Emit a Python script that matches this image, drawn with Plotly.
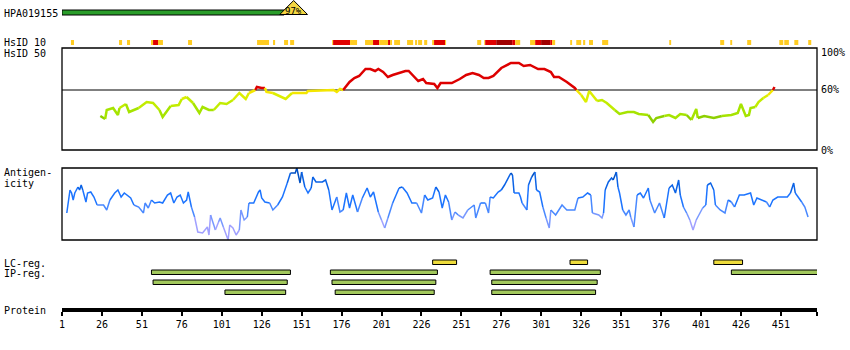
import plotly.graph_objects as go

# ---------------- data ----------------
protein_length = 473
tick_positions = [1, 26, 51, 76, 101, 126, 151, 176, 201, 226, 251, 276, 301, 326, 351, 376, 401, 426, 451]

antigen_name = "HPA019155"
antigen_start = 1
antigen_end = 140
antigen_marker = 146
antigen_identity = "97%"

# HsID 10 row: start, end, level (0 = orange, 1 = red, 2 = dark red)
hsid10_start = [6.6, 36.7, 41.7, 56.7, 58.0, 61.1, 79.9, 123.1, 133.1, 140.0, 143.8,
                170.1, 170.7, 181.3, 190.7, 195.7, 199.5, 205.1, 206.4, 208.9, 217.0,
                222.0, 223.9, 227.7, 232.7, 233.9, 240.8, 260.9, 265.3, 265.9, 272.8,
                282.8, 284.7, 294.0, 297.2, 300.9, 306.6, 307.8, 319.1, 322.9, 327.2,
                330.9, 339.1, 381.1, 413.0, 419.3, 429.9, 450.0, 453.1, 459.4, 468.1]
hsid10_end = [8.5, 38.6, 43.6, 58.0, 61.1, 64.2, 82.4, 130.6, 134.4, 142.5, 146.3,
              170.7, 181.3, 185.7, 195.7, 199.5, 205.1, 206.4, 207.6, 212.6, 220.8,
              223.3, 226.4, 229.6, 233.9, 240.8, 241.4, 263.4, 265.9, 272.8, 282.8,
              284.7, 287.8, 297.2, 300.9, 306.6, 307.8, 309.7, 320.3, 326.0, 328.5,
              333.4, 342.9, 382.3, 415.5, 420.5, 432.4, 452.5, 456.0, 461.9, 470.0]
hsid10_level = [0, 0, 0, 0, 1, 0, 0, 0, 0, 0, 0,
                0, 1, 0, 0, 1, 0, 1, 0, 0, 0,
                0, 0, 0, 0, 1, 0, 0, 0, 1, 2,
                1, 0, 0, 1, 2, 1, 0, 0, 0, 0,
                0, 0, 0, 0, 0, 0, 0, 0, 0, 0]

# HsID 50 similarity curve (%)
hsid50_res = [25, 28, 29, 33, 36, 37, 41, 43, 46, 49,
              54, 58, 62, 64, 69, 74, 76, 79, 83, 87,
              89, 93, 96, 100, 104, 108, 112, 116, 118, 122,
              123, 126, 128, 129, 133, 137, 141, 145, 154, 155,
              171, 173, 175, 177, 178, 181, 184, 187, 191, 194,
              197, 199, 202, 205, 208, 212, 216, 218, 221, 224,
              227, 229, 234, 236, 238, 245, 250, 254, 258, 262,
              265, 268, 271, 276, 282, 287, 290, 294, 299, 303,
              307, 309, 312, 317, 322, 323, 326, 329, 331, 334,
              336, 339, 342, 347, 350, 355, 359, 362, 368, 371,
              373, 378, 381, 385, 388, 392, 395, 398, 399, 403,
              409, 414, 420, 424, 426, 429, 431, 432, 435, 437,
              440, 443, 446, 447]
hsid50_val = [34, 31, 40, 42, 35, 42, 46, 38, 40, 42,
              48, 47, 40, 33, 44, 45, 51, 53, 47, 37,
              43, 40, 40, 47, 46, 50, 57, 51, 57, 60,
              63, 62, 62, 58, 57, 54, 51, 57, 57, 59,
              60, 58, 61, 60, 62, 68, 72, 74, 81, 81,
              79, 81, 78, 73, 75, 77, 79, 79, 74, 69,
              71, 67, 66, 62, 67, 67, 71, 75, 77, 75,
              72, 72, 74, 82, 87, 87, 84, 85, 81, 81,
              78, 73, 73, 68, 62, 60, 55, 48, 59, 53,
              49, 50, 47, 40, 36, 38, 38, 36, 35, 28,
              32, 34, 35, 32, 36, 35, 30, 41, 32, 34,
              32, 34, 35, 37, 46, 34, 35, 42, 43, 48,
              52, 55, 60, 63]

# Antigenicity curve (arbitrary units)
antig_res = [4, 6, 7, 8, 9, 11, 12, 13, 14, 16,
             17, 19, 21, 23, 27, 29, 31, 34, 36, 38,
             40, 44, 46, 49, 52, 53, 55, 57, 59, 62,
             64, 67, 69, 71, 73, 75, 77, 79, 80, 82,
             84, 86, 89, 92, 93, 94, 97, 99, 100, 102,
             105, 106, 108, 110, 112, 113, 115, 117, 118, 121,
             124, 125, 126, 128, 131, 133, 136, 139, 142, 144,
             147, 148, 150, 151, 153, 155, 157, 158, 160, 164,
             166, 168, 170, 173, 175, 177, 179, 181, 183, 186,
             189, 192, 194, 196, 199, 201, 203, 205, 208, 212,
             214, 217, 220, 223, 225, 226, 228, 230, 233, 235,
             237, 239, 241, 243, 245, 247, 249, 252, 255, 259,
             260, 263, 266, 268, 269, 271, 274, 276, 278, 282,
             283, 284, 287, 288, 289, 292, 293, 295, 297, 298,
             300, 302, 304, 306, 307, 310, 312, 314, 317, 322,
             324, 327, 330, 332, 333, 337, 339, 340, 341, 343,
             345, 346, 348, 349, 350, 352, 354, 356, 357, 359,
             361, 363, 365, 368, 369, 372, 375, 378, 381, 383,
             385, 387, 388, 390, 392, 394, 396, 398, 402, 404,
             405, 407, 409, 410, 413, 416, 418, 420, 422, 425,
             428, 432, 434, 436, 439, 442, 444, 446, 449, 452,
             455, 457, 459, 460, 462, 464, 466, 468]
antig_val = [27, 50, 47, 40, 47, 53, 50, 55, 50, 38,
             47, 48, 43, 35, 35, 30, 40, 47, 50, 43,
             47, 42, 35, 33, 27, 37, 32, 40, 37, 38,
             37, 45, 47, 37, 43, 45, 37, 40, 48, 33,
             23, 8, 7, 13, 5, 25, 10, 18, 22, 13,
             0, 15, 12, 5, 10, 30, 20, 23, 37, 37,
             48, 50, 42, 38, 37, 30, 35, 43, 57, 67,
             67, 72, 57, 68, 53, 47, 52, 63, 58, 58,
             60, 50, 30, 43, 28, 30, 47, 32, 45, 28,
             42, 52, 43, 48, 28, 20, 12, 22, 37, 52,
             53, 47, 37, 37, 30, 27, 45, 40, 42, 53,
             48, 32, 45, 38, 20, 28, 25, 22, 30, 35,
             22, 37, 37, 27, 43, 42, 48, 50, 55, 67,
             65, 47, 47, 43, 37, 30, 55, 63, 68, 50,
             48, 33, 22, 12, 30, 25, 30, 35, 30, 30,
             42, 43, 47, 45, 27, 25, 22, 27, 50, 58,
             62, 60, 68, 53, 47, 30, 25, 30, 23, 13,
             45, 47, 42, 52, 40, 27, 37, 22, 52, 55,
             47, 60, 45, 33, 27, 20, 10, 20, 32, 35,
             55, 57, 50, 35, 30, 27, 40, 38, 33, 45,
             45, 47, 35, 42, 40, 38, 33, 40, 43, 43,
             43, 47, 57, 47, 42, 38, 33, 23]

# LC / IP regions
lc_start = [233, 319, 409]
lc_end = [248, 330, 427]
ip1_start = [57, 169, 269, 420]
ip1_end = [144, 236, 338, 474]
ip2_start = [58, 170, 270]
ip2_end = [142, 235, 336]
ip3_start = [103, 172, 270]
ip3_end = [141, 234, 335]

# ---------------- layout helpers ----------------
W, H = 850, 350
ML, MR = 62, 33
PW = W - ML - MR
MONO = "DejaVu Sans Mono"


def px(xp):
    return (xp - ML) / PW


def py(yp):
    return 1 - yp / H


def hsid_color(v):
    if v > 60.9:
        return "#dd0000"
    if v > 56:
        return "#f4e600"
    if v > 50:
        return "#dcee00"
    if v > 43:
        return "#c2ec00"
    if v > 33:
        return "#a6e400"
    if v > 29:
        return "#8ed000"
    return "#64a800"


def antig_color(v):
    if v > 62:
        return "#0050c4"
    if v > 50:
        return "#0a62e6"
    if v > 36:
        return "#1c74ff"
    if v > 26:
        return "#4888ff"
    if v > 16:
        return "#7898ff"
    return "#a0a0ff"


fig = go.Figure()


def add_colored(xs, ys, yref, cfn, width):
    cols = [cfn((ys[i] + ys[i + 1]) / 2) for i in range(len(xs) - 1)]
    i = 0
    while i < len(cols):
        j = i
        while j + 1 < len(cols) and cols[j + 1] == cols[i]:
            j += 1
        fig.add_trace(go.Scatter(x=xs[i:j + 2], y=ys[i:j + 2], mode="lines",
                                 line=dict(color=cols[i], width=width),
                                 yaxis=yref, showlegend=False, hoverinfo="skip"))
        i = j + 1


add_colored(hsid50_res, hsid50_val, "y", hsid_color, 2.5)
add_colored(antig_res, antig_val, "y2", antig_color, 1.5)

shapes = []
# HPA bar + identity triangle
shapes.append(dict(type="rect", xref="x", yref="paper", x0=antigen_start, x1=antigen_end,
                   y0=py(15), y1=py(10), fillcolor="#2a9d2a", line=dict(color="black", width=1)))
hw = 8.7
shapes.append(dict(type="path", xref="x", yref="paper",
                   path=f"M {antigen_marker - hw},{py(14.5)} L {antigen_marker},{py(0.5)} L {antigen_marker + hw},{py(14.5)} Z",
                   fillcolor="#f5d742", line=dict(color="black", width=1)))

# HsID 10 row
lvl_col = ["#ffcc22", "#e00000", "#a00000"]
for s, e, l in zip(hsid10_start, hsid10_end, hsid10_level):
    shapes.append(dict(type="rect", xref="x", yref="paper", x0=s, x1=e, y0=py(45), y1=py(40),
                       fillcolor=lvl_col[l], line=dict(width=0), layer="below"))

# HsID 50 box and 60% line
shapes.append(dict(type="rect", xref="paper", yref="paper", x0=0, x1=1, y0=py(150), y1=py(48),
                   line=dict(color="black", width=1.3)))
shapes.append(dict(type="line", xref="paper", yref="y", x0=0, x1=1, y0=60, y1=60,
                   line=dict(color="black", width=1), layer="below"))
# Antigenicity box
shapes.append(dict(type="rect", xref="paper", yref="paper", x0=0, x1=1, y0=py(240), y1=py(168),
                   line=dict(color="black", width=1.3)))

# LC / IP bars
def bars(starts, ends, ytop, color):
    for s, e in zip(starts, ends):
        shapes.append(dict(type="rect", xref="x", yref="paper", x0=s, x1=e,
                           y0=py(ytop + 4.5), y1=py(ytop), fillcolor=color,
                           line=dict(color="black", width=1)))


bars(lc_start, lc_end, 260, "#eedc3c")
bars(ip1_start, ip1_end, 270, "#a2c85c")
bars(ip2_start, ip2_end, 280, "#a2c85c")
bars(ip3_start, ip3_end, 290, "#a2c85c")

# ---------------- annotations ----------------
ann = []


def label(text, xp, yp, anchor="left", size=10):
    ann.append(dict(text=text, xref="paper", yref="paper", x=px(xp), y=py(yp),
                    xanchor=anchor, yanchor="middle", showarrow=False,
                    font=dict(family=MONO, size=size, color="black")))


label(antigen_name, 2, 13)
label("HsID 10", 2, 42)
label("HsID 50", 2, 53)
label("Antigen-", 2, 173)
label("icity", 2, 183)
label("LC-reg.", 2, 263)
label("IP-reg.", 2, 273)
label("Protein", 2, 310)
label("100%", 819, 52)
label("60%", 819, 90)
label("0%", 819, 150)
ann.append(dict(text=antigen_identity, xref="x", yref="paper", x=antigen_marker, y=py(10.5),
                xanchor="center", yanchor="middle", showarrow=False,
                font=dict(family=MONO, size=9, color="black")))

tickvals = tick_positions + [protein_length + 0.6]
ticktext = [str(t) for t in tick_positions] + [""]

fig.update_layout(
    width=W, height=H,
    margin=dict(l=ML, r=MR, t=0, b=0),
    paper_bgcolor="white", plot_bgcolor="white",
    showlegend=False,
    xaxis=dict(range=[1, protein_length + 0.6], domain=[0, 1], anchor="free", position=py(310),
               showline=True, linewidth=3.5, linecolor="black", ticks="outside", ticklen=4,
               tickwidth=1.5, tickcolor="black", tickvals=tickvals, ticktext=ticktext,
               tickfont=dict(family=MONO, size=10, color="black"), showgrid=False,
               zeroline=False, fixedrange=True),
    yaxis=dict(domain=[py(150), py(48)], range=[0, 102], visible=False, fixedrange=True),
    yaxis2=dict(domain=[py(240), py(168)], range=[0, 72], visible=False, fixedrange=True,
                anchor="x"),
    shapes=shapes,
    annotations=ann,
)

fig.write_html("out.html")
